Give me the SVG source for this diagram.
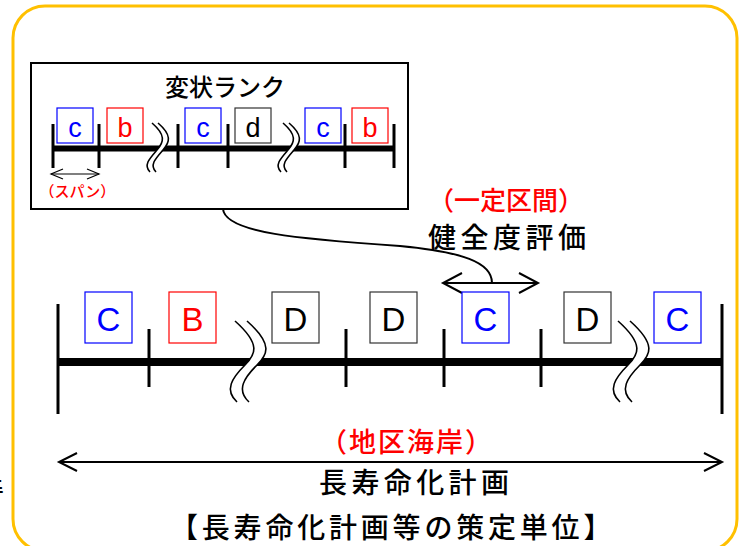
<svg xmlns="http://www.w3.org/2000/svg" width="747" height="546" viewBox="0 0 747 546">
<style>
.jp{font-family:"Noto Sans CJK JP","Noto Sans CJK SC",sans-serif;font-weight:500;}
.lt{font-family:"Liberation Sans",Arial,sans-serif;}
.red{fill:#FF0000;}
.blk{fill:#000;}
.sb{fill:#fff;stroke-width:1.2;}
.bl{stroke:#0000FF;}
.rd{stroke:#FF0000;}
.bk{stroke:#333;}
.tick{stroke:#000;stroke-width:3;}
.wave{fill:none;stroke:#000;stroke-width:1.6;}
.arr{fill:none;stroke:#000;stroke-width:2;}
</style>
<defs>
<path id="bigbreak-fill" d="M235,321 C262,345 255,355 245,365 C232,378 224,390 237,402 L249,402 C236,390 244,378 257,365 C267,355 274,345 247,321 Z"/>
<path id="smallbreak-fill" d="M152,123 C166,135 164,142 157,150 C150,158 143,165 150,172 L156,172 C149,165 156,158 163,150 C170,142 172,135 158,123 Z"/>
</defs>

<g id="frame">
<rect x="13" y="6" width="724" height="545" rx="32" ry="32" fill="none" stroke="#FFC000" stroke-width="3"/>
</g>

<g id="partial-text">
<text class="jp blk" x="-23" y="500" font-size="27">善</text>
</g>

<g id="inner-box">
<rect x="31" y="63" width="377" height="146" fill="#fff" stroke="#000" stroke-width="2"/>
<text class="jp blk" x="165" y="96" font-size="24">変状ランク</text>
<line x1="53" y1="148.5" x2="394" y2="148.5" stroke="#000" stroke-width="6"/>
<line class="tick" x1="53" y1="124" x2="53" y2="168"/>
<line class="tick" x1="99" y1="124" x2="99" y2="168"/>
<line class="tick" x1="178" y1="124" x2="178" y2="168"/>
<line class="tick" x1="228" y1="124" x2="228" y2="168"/>
<line class="tick" x1="345" y1="124" x2="345" y2="168"/>
<line class="tick" x1="394" y1="124" x2="394" y2="168"/>
<g id="small-break-1">
<use href="#smallbreak-fill" fill="#fff"/>
<path class="wave" d="M152,123 C166,135 164,142 157,150 C150,158 143,165 150,172"/>
<path class="wave" d="M158,123 C172,135 170,142 163,150 C156,158 149,165 156,172"/>
</g>
<g id="small-break-2" transform="translate(131,0)">
<use href="#smallbreak-fill" fill="#fff"/>
<path class="wave" d="M152,123 C166,135 164,142 157,150 C150,158 143,165 150,172"/>
<path class="wave" d="M158,123 C172,135 170,142 163,150 C156,158 149,165 156,172"/>
</g>
<g id="rank-c1"><rect class="sb bl" x="57" y="108" width="36" height="35"/><text class="lt" x="75" y="137" font-size="27" fill="#0000FF" text-anchor="middle">c</text></g>
<g id="rank-b1"><rect class="sb rd" x="107" y="108" width="36" height="35"/><text class="lt" x="125" y="137" font-size="27" fill="#FF0000" text-anchor="middle">b</text></g>
<g id="rank-c2"><rect class="sb bl" x="185" y="108" width="36" height="35"/><text class="lt" x="203" y="137" font-size="27" fill="#0000FF" text-anchor="middle">c</text></g>
<g id="rank-d1"><rect class="sb bk" x="235" y="108" width="36" height="35"/><text class="lt" x="253" y="137" font-size="27" fill="#000" text-anchor="middle">d</text></g>
<g id="rank-c3"><rect class="sb bl" x="305" y="108" width="36" height="35"/><text class="lt" x="323" y="137" font-size="27" fill="#0000FF" text-anchor="middle">c</text></g>
<g id="rank-b2"><rect class="sb rd" x="352" y="108" width="36" height="35"/><text class="lt" x="370" y="137" font-size="27" fill="#FF0000" text-anchor="middle">b</text></g>
<g id="span">
<line x1="51" y1="174" x2="99" y2="174" stroke="#000" stroke-width="1.2"/>
<path d="M63,169 L51,174 L63,179 M87,169 L99,174 L87,179" fill="none" stroke="#000" stroke-width="1.2"/>
<text class="jp red" x="77.5" y="197" font-size="15" text-anchor="middle">（スパン）</text>
</g>
</g>

<g id="connectors">
<path class="arr" d="M223,209 C225,233 300,239 400,246 C462,252 492,262 492,283"/>
<g id="eval-arrow">
<line x1="443" y1="283" x2="538" y2="283" stroke="#000" stroke-width="2"/>
<path class="arr" d="M462,273 L443,283 L462,293 M519,273 L538,283 L519,293"/>
</g>
<g id="plan-arrow">
<line x1="59" y1="462" x2="722" y2="462" stroke="#000" stroke-width="2"/>
<path class="arr" d="M77,453 L59,462 L77,471 M704,453 L722,462 L704,471"/>
</g>
</g>

<g id="eval-label">
<text class="jp red" x="428" y="210" font-size="26">（一定区間）</text>
<text class="jp blk" x="428" y="248" font-size="28" letter-spacing="4.5">健全度評価</text>
</g>

<g id="main-line">
<line x1="58" y1="362" x2="722" y2="362" stroke="#000" stroke-width="8"/>
<line class="tick" x1="58" y1="304" x2="58" y2="414"/>
<line class="tick" x1="149" y1="329" x2="149" y2="387"/>
<line class="tick" x1="346" y1="329" x2="346" y2="387"/>
<line class="tick" x1="444" y1="329" x2="444" y2="387"/>
<line class="tick" x1="541" y1="329" x2="541" y2="387"/>
<line class="tick" x1="722" y1="304" x2="722" y2="414"/>
<g id="big-break-1">
<use href="#bigbreak-fill" fill="#fff"/>
<path class="wave" d="M235,321 C262,345 255,355 245,365 C232,378 224,390 237,402"/>
<path class="wave" d="M247,321 C274,345 267,355 257,365 C244,378 236,390 249,402"/>
</g>
<g id="big-break-2" transform="translate(383,0)">
<use href="#bigbreak-fill" fill="#fff"/>
<path class="wave" d="M235,321 C262,345 255,355 245,365 C232,378 224,390 237,402"/>
<path class="wave" d="M247,321 C274,345 267,355 257,365 C244,378 236,390 249,402"/>
</g>
</g>

<g id="seg-C1"><rect class="sb bl" x="85" y="292" width="47" height="51"/><text class="lt" x="108.5" y="331" font-size="33" fill="#0000FF" text-anchor="middle">C</text></g>
<g id="seg-B1"><rect class="sb rd" x="169" y="292" width="47" height="51"/><text class="lt" x="192.5" y="331" font-size="33" fill="#FF0000" text-anchor="middle">B</text></g>
<g id="seg-D1"><rect class="sb bk" x="272" y="292" width="47" height="51"/><text class="lt" x="295.5" y="331" font-size="33" fill="#000" text-anchor="middle">D</text></g>
<g id="seg-D2"><rect class="sb bk" x="370" y="292" width="47" height="51"/><text class="lt" x="393.5" y="331" font-size="33" fill="#000" text-anchor="middle">D</text></g>
<g id="seg-C2"><rect class="sb bl" x="462" y="292" width="47" height="51"/><text class="lt" x="485.5" y="331" font-size="33" fill="#0000FF" text-anchor="middle">C</text></g>
<g id="seg-D3"><rect class="sb bk" x="564" y="292" width="47" height="51"/><text class="lt" x="587.5" y="331" font-size="33" fill="#000" text-anchor="middle">D</text></g>
<g id="seg-C3"><rect class="sb bl" x="654" y="292" width="47" height="51"/><text class="lt" x="677.5" y="331" font-size="33" fill="#0000FF" text-anchor="middle">C</text></g>

<g id="plan-label">
<text class="jp red" x="320" y="452" font-size="27" letter-spacing="2">（地区海岸）</text>
<text class="jp blk" x="319" y="493" font-size="28" letter-spacing="4.4">長寿命化計画</text>
<text class="jp blk" x="170" y="538" font-size="28" letter-spacing="3.8">【長寿命化計画等の策定単位】</text>
</g>
</svg>
